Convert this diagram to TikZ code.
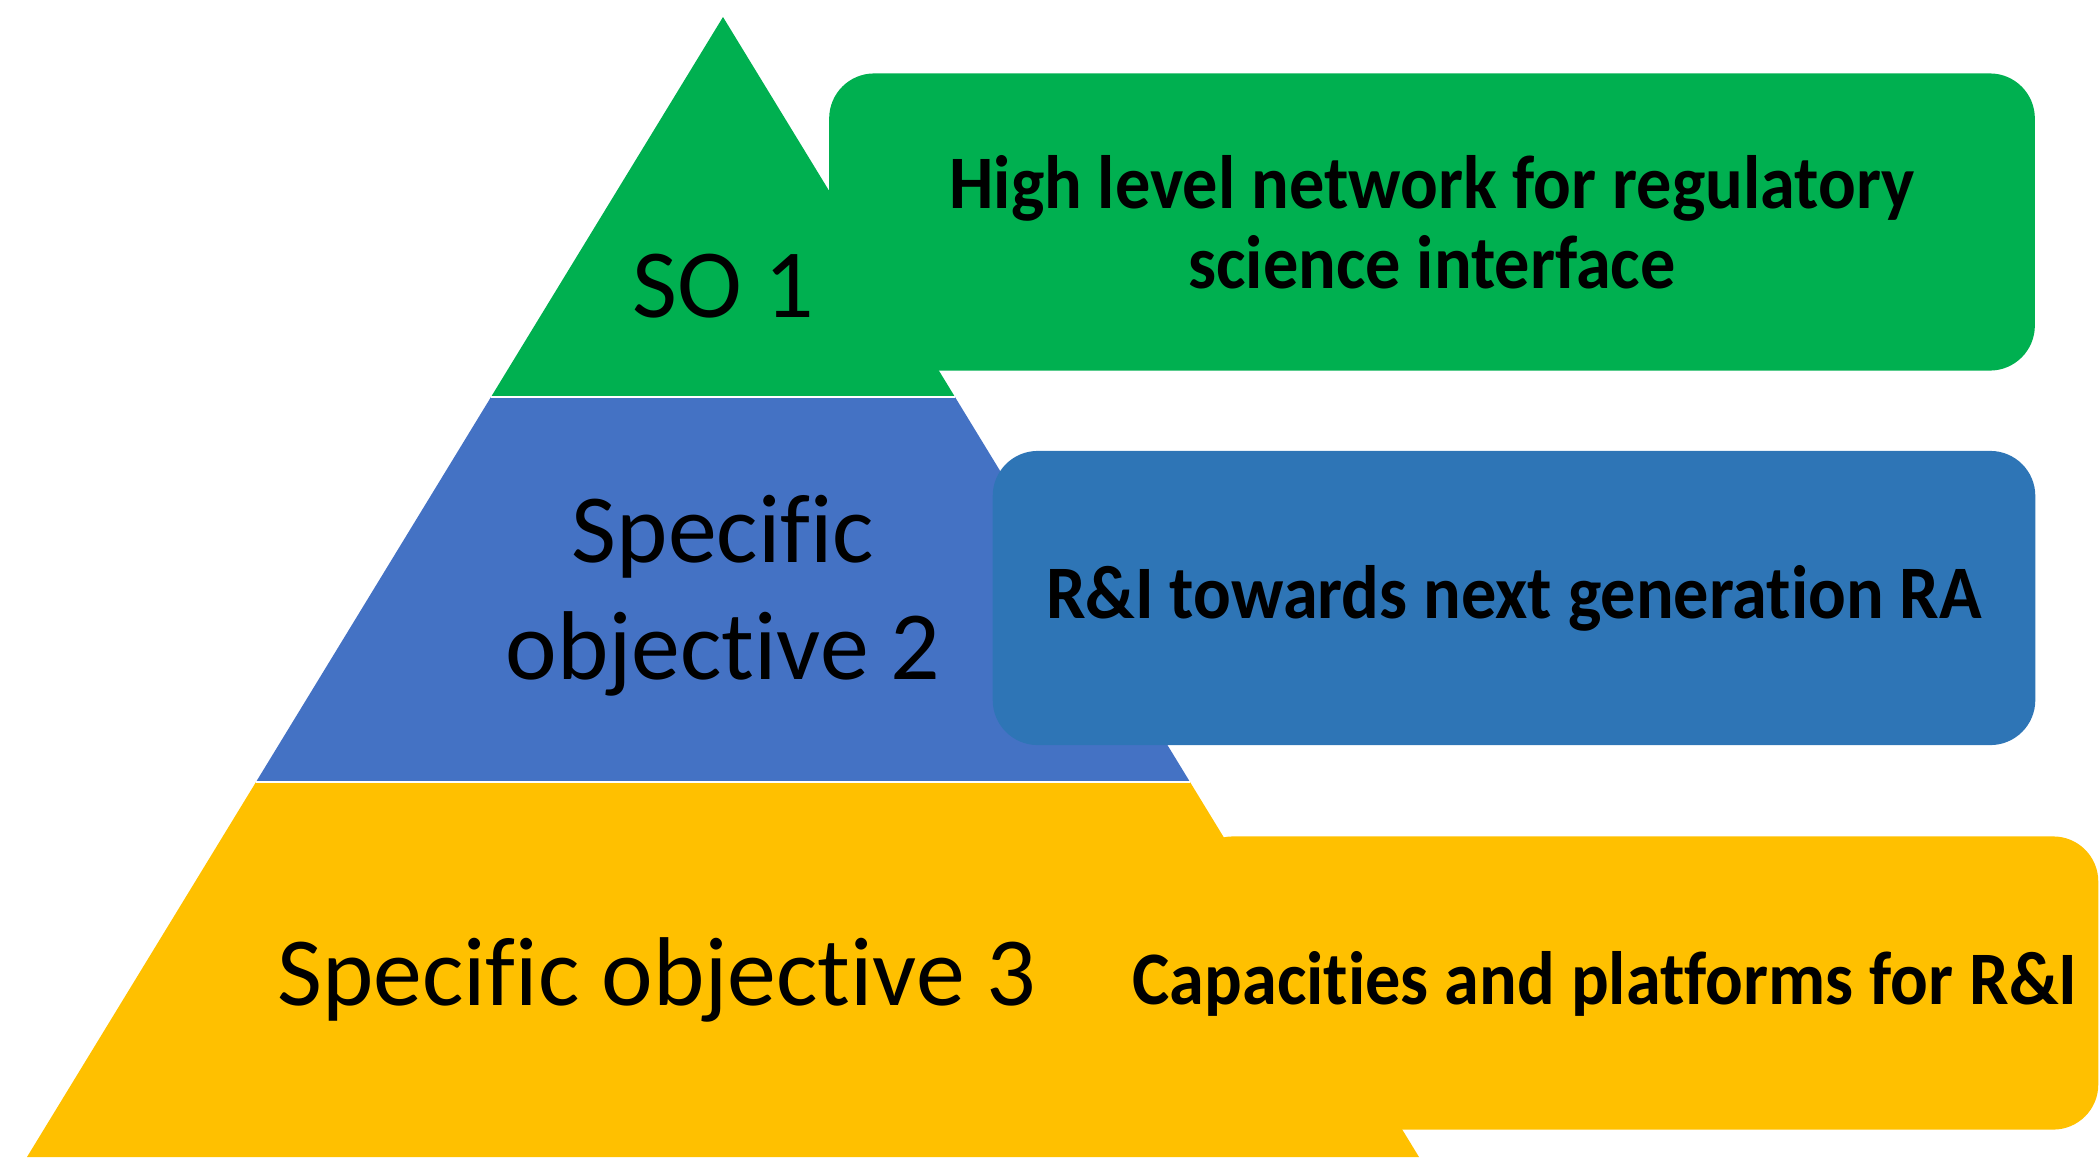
\documentclass[tikz,border=0pt]{standalone}
\usepackage{fontspec}
\setmainfont{Carlito}[Ligatures=NoCommon]
\newfontfamily\goalfont{Carlito}[Ligatures=NoCommon, FakeStretch=0.93]
\definecolor{sogreen}{HTML}{00B050}
\definecolor{soblue}{HTML}{4472C4}
\definecolor{goalblue}{HTML}{2E75B6}
\definecolor{soyellow}{HTML}{FFC000}

\begin{document}
\begin{tikzpicture}[x=.01cm, y=-.01cm,
	lvl/.style={align=center, font=\fontsize{27.8}{33.3}\selectfont},
	goal/.style={rounded corners=.45cm, inner sep=0pt, align=center,
		font=\goalfont\bfseries\fontsize{21.5}{22.8}\selectfont}]
	\useasboundingbox (0,0) rectangle (2100,1157);
	% pyramid
	\coordinate (apex) at (723,17);
	\coordinate (gl) at (491,397);
	\coordinate (gr) at (955,397);
	\coordinate (bl) at (256,782);
	\coordinate (br) at (1190,782);
	\coordinate (yl) at (27,1157);
	\coordinate (yr) at (1419,1157);
	\fill[sogreen] (apex)--(gr)--(gl)--cycle;
	\fill[soblue] (gl)--(gr)--(br)--(bl)--cycle;
	\fill[soyellow] (bl)--(br)--(yr)--(yl)--cycle;
	\draw[white, line width=.7pt] (gl)--(gr);
	\draw[white, line width=.7pt] (bl)--(br);
	% boxes
	\node[goal, fill=sogreen, minimum width=12.05cm, minimum height=2.97cm] (net) at (1432,222)
		{High level network for regulatory\\science interface};
	\node[goal, fill=goalblue, minimum width=10.42cm, minimum height=2.94cm] (ri) at (1514,598)
		{R\&I towards next generation RA};
	\node[goal, fill=soyellow, minimum width=9.1cm, minimum height=2.93cm] (cap) at (1643,983) {};
	\node[goal] (captxt) at (1605,984) {Capacities and platforms for R\&I};
	% levels
	\node[lvl] (so1) at (723,286) {SO 1};
	\node[lvl] (so2) at (723,596) {Specific\\objective 2};
	\node[lvl] (so3) at (657,980) {Specific objective 3};
\end{tikzpicture}
\end{document}
